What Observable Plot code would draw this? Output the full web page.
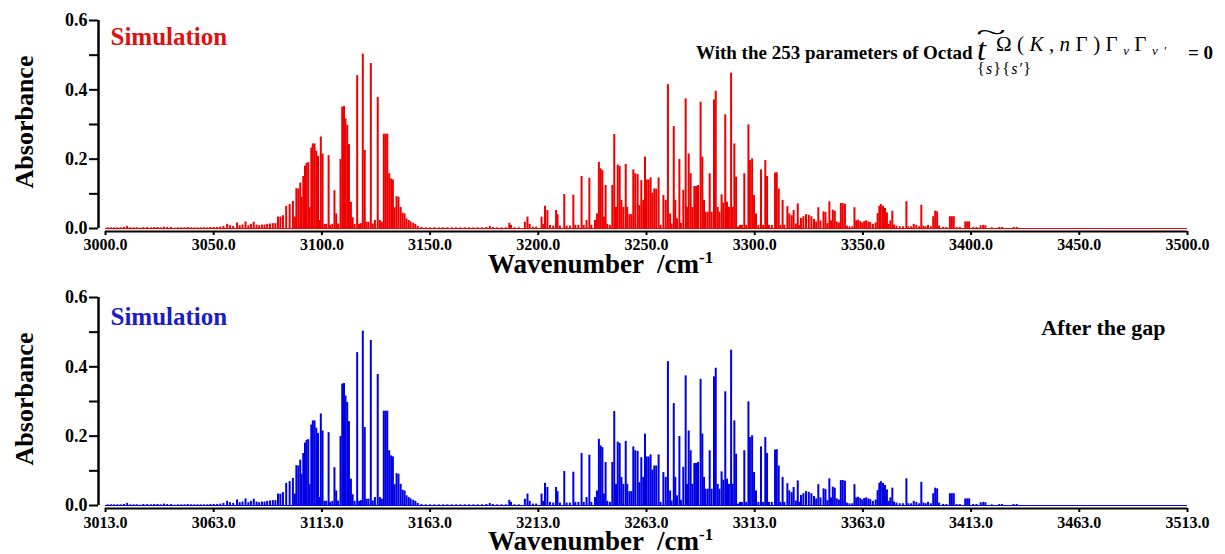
<!DOCTYPE html>
<html>
<head>
<meta charset="utf-8">
<script src="https://cdn.jsdelivr.net/npm/d3@7"></script>
<script src="https://cdn.jsdelivr.net/npm/@observablehq/plot@0.6"></script>
<style>
  body { margin: 0; background: #fff; width: 1225px; height: 554px; overflow: hidden; }
  #charts svg { display: block; }
</style>
</head>
<body>
<div id="charts"></div>
<script>
// Stick spectrum: [wavenumber (cm-1), absorbance]
const spectrumLines = [
  [3001,0.002],[3002.5,0.002],[3004,0.002],[3005.5,0.002],[3007,0.002],[3008.5,0.003],[3010,0.006],[3011.5,0.002],
  [3013,0.002],[3014.5,0.002],[3016,0.001],[3017.5,0.003],[3019.3,0.003],[3021,0.002],[3022.5,0.003],[3024,0.003],
  [3025.5,0.002],[3027,0.004],[3028.5,0.003],[3030.3,0.003],[3032,0.001],[3033.5,0.002],[3035,0.002],[3036.5,0.002],
  [3038,0.003],[3039.5,0.002],[3041,0.002],[3042.5,0.002],[3044,0.002],[3045.5,0.002],[3047,0.002],[3048.5,0.003],
  [3050,0.003],[3051.6,0.003],[3053,0.004],[3054.5,0.006],[3056.2,0.012],[3057.5,0.008],[3059,0.006],[3060.8,0.016],
  [3062,0.008],[3063.3,0.01],[3064.7,0.019],[3066,0.008],[3067.2,0.012],[3068.5,0.018],[3069.8,0.01],[3071,0.008],
  [3072.3,0.01],[3073.5,0.01],[3074.7,0.012],[3076,0.013],[3077.3,0.014],[3078.5,0.014],
  [3079.7,0.033],[3080.8,0.033],[3082,0.037],[3083.5,0.064],[3085.1,0.069],[3086.6,0.078],[3087.5,0.033],[3088.2,0.115],
  [3089.1,0.114],[3090,0.131],[3090.6,0.09],[3091.4,0.15],[3092.2,0.18],[3092.9,0.188],[3093.7,0.19],[3094.3,0.06],
  [3095.1,0.232],[3095.8,0.244],[3096.6,0.244],[3097.4,0.223],[3098.2,0.208],[3098.8,0.023],[3099.5,0.264],[3100.3,0.215],
  [3101.2,0.012],[3102,0.012],[3103.1,0.21],[3103.8,0.009],[3104.8,0.012],[3105.8,0.109],[3106.6,0.042],[3107.5,0.013],
  [3108.6,0.199],[3109.4,0.35],[3110.2,0.352],[3110.9,0.316],[3111.7,0.297],[3112.5,0.242],[3113.4,0.076],[3114.2,0.031],
  [3115.1,0.012],[3116.3,0.441],[3117.2,0.012],[3118,0.014],[3118.9,0.503],[3119.8,0.225],[3120.6,0.018],[3121.5,0.018],
  [3122.6,0.476],[3123.5,0.013],[3124.5,0.023],[3125.8,0.378],[3126.8,0.023],[3127.7,0.018],[3128.6,0.272],[3129.4,0.272],
  [3130.2,0.272],[3131.1,0.158],[3132,0.143],[3132.8,0.14],[3133.6,0.06],[3134.5,0.092],[3135.4,0.09],[3136.4,0.061],
  [3137.3,0.044],[3138.2,0.042],[3139.1,0.028],[3140.1,0.023],[3141,0.019],[3142.2,0.015],[3143.2,0.012],[3144.3,0.006],
  [3146,0.003],[3148,0.002],[3150,0.002],[3152,0.002],[3154,0.002],[3156,0.002],[3158,0.002],[3160,0.002],
  [3162,0.002],[3164,0.002],[3166,0.002],[3168,0.002],[3170,0.002],[3172,0.002],[3174,0.002],[3176,0.003],
  [3177.6,0.006],[3179,0.003],[3181,0.002],[3183,0.002],[3185,0.002],[3186.6,0.015],[3187.4,0.009],[3189,0.002],
  [3191,0.002],[3193.8,0.018],[3195,0.033],[3196,0.012],[3197.5,0.004],[3199,0.004],
  [3201.5,0.033],[3202.3,0.012],[3203.1,0.064],[3204.2,0.052],[3205.4,0.009],[3206.9,0.007],[3208.2,0.052],[3208.9,0.04],
  [3210,0.007],[3212,0.098],[3213.1,0.007],[3214.6,0.007],[3216.2,0.096],[3217.1,0.009],[3218.5,0.009],[3220,0.15],
  [3221,0.009],[3222.3,0.023],[3223.6,0.145],[3224.5,0.009],[3226.2,0.023],[3227.1,0.042],[3228,0.191],[3228.8,0.172],
  [3229.6,0.167],[3230.3,0.033],[3231.1,0.124],[3231.9,0.012],[3233.1,0.009],[3234.2,0.124],[3235.1,0.271],[3235.9,0.061],
  [3236.7,0.183],[3237.6,0.179],[3238.4,0.081],[3239.3,0.061],[3240.4,0.185],[3241.1,0.061],[3242.1,0.04],[3243,0.04],
  [3243.9,0.169],[3244.8,0.158],[3245.9,0.156],[3246.7,0.066],[3247.6,0.138],[3248.5,0.081],[3249.3,0.206],[3250.1,0.14],
  [3251,0.14],[3251.9,0.146],[3252.7,0.102],[3253.6,0.114],[3254.5,0.114],[3255.6,0.146],[3256.5,0.009],[3257.8,0.095],
  [3258.9,0.081],[3259.9,0.415],[3260.9,0.042],[3261.6,0.013],[3262.6,0.294],[3263.3,0.081],[3264.1,0.028],[3265.2,0.199],
  [3265.9,0.015],[3267,0.11],[3268.1,0.374],[3268.7,0.061],[3269.5,0.215],[3270.4,0.158],[3271.2,0.061],[3272.1,0.121],
  [3272.9,0.121],[3273.8,0.124],[3275,0.364],[3275.8,0.206],[3276.6,0.081],[3277.3,0.047],[3278.3,0.047],[3279.2,0.158],
  [3280.1,0.047],[3281.2,0.371],[3282,0.396],[3282.9,0.061],[3283.7,0.047],[3284.7,0.097],[3285.5,0.073],[3286.4,0.328],
  [3287.2,0.076],[3288.1,0.061],[3289.1,0.448],[3289.8,0.061],[3290.6,0.244],[3291.4,0.148],[3292.3,0.004],[3293.2,0.009],
  [3294.1,0.009],[3295.2,0.158],[3296.1,0.009],[3297.1,0.299],[3297.8,0.196],[3298.8,0.201],[3299.7,0.095],[3300.6,0.042],
  [3301.7,0.009],[3302.9,0.169],[3303.9,0.009],[3304.9,0.196],[3305.7,0.15],[3306.6,0.009],[3307.9,0.009],[3309.4,0.16],
  [3310.2,0.161],[3311.1,0.114],[3311.9,0.009],[3312.9,0.081],[3313.7,0.009],[3315.1,0.063],[3316,0.042],[3317.1,0.037],
  [3318,0.052],[3319,0.013],[3319.9,0.071],[3320.6,0.009],
  [3321.4,0.029],[3322.5,0.034],[3323.7,0.04],[3325,0.038],[3326.2,0.034],[3327.4,0.026],[3328.4,0.019],[3329.4,0.06],
  [3330.4,0.022],[3331.8,0.048],[3332.7,0.046],[3333.6,0.014],[3334.5,0.077],[3335.3,0.022],[3336.1,0.053],[3337,0.05],
  [3337.9,0.019],[3338.9,0.016],[3339.8,0.072],[3340.7,0.072],[3341.7,0.07],[3342.6,0.007],[3343.8,0.005],[3345.1,0.005],
  [3346.1,0.06],[3346.9,0.022],[3347.8,0.024],[3348.8,0.02],[3349.7,0.016],[3350.6,0.02],[3351.5,0.022],[3352.5,0.019],
  [3353.4,0.017],[3354.6,0.012],[3355.9,0.016],[3356.8,0.043],[3357.6,0.064],[3358.3,0.069],[3359.3,0.064],[3360.2,0.058],
  [3361.1,0.045],[3361.9,0.012],[3362.7,0.022],[3363.6,0.05],[3364.4,0.01],[3365.5,0.007],[3367,0.005],[3368.5,0.005],
  [3370.1,0.077],[3371,0.005],[3372.3,0.005],[3373.5,0.012],[3374.7,0.009],[3376,0.005],[3377,0.067],[3378,0.007],
  [3379,0.005],[3380.1,0.009],[3381.4,0.005],[3382.5,0.034],[3383.4,0.05],[3384.3,0.048],[3385.2,0.007],[3387.1,0.003],
  [3388.6,0.003],[3390.2,0.034],[3391.1,0.034],[3392,0.034],[3393.3,0.003],[3394.8,0.003],[3397.3,0.019],[3398.2,0.019],
  [3399.1,0.019],[3401,0.003],[3402.5,0.003],[3404.4,0.008],[3405.6,0.009],[3406.6,0.008],[3409.5,0.002],[3413,0.003],
  [3414.3,0.003],[3419.6,0.003],[3421.1,0.003]
];

// Axis ticks of both panels; the lower panel is the same spectrum moved past the gap
const upperTicks = [3000, 3050, 3100, 3150, 3200, 3250, 3300, 3350, 3400, 3450, 3500];
const lowerTicks = [3013, 3063, 3113, 3163, 3213, 3263, 3313, 3363, 3413, 3463, 3513];
const gapShift = 13;
const yTicks = [0, 0.1, 0.2, 0.3, 0.4, 0.5, 0.6];
const yLabelled = [0, 0.2, 0.4, 0.6];

const SERIF = "'Liberation Serif', 'Times New Roman', serif";

function panel({xTicks, shift, bar, ink, labelPad, titleDy, note}) {
  const rows = spectrumLines.map(([w, a]) => ({w: w + shift, a}));
  const x0 = xTicks[0], x1 = xTicks[xTicks.length - 1];
  const marks = [
    Plot.ruleY([0], {x1: x0, x2: x1, stroke: bar, strokeWidth: 1}),
    Plot.ruleX(rows, {x: "w", y1: 0, y2: "a", stroke: bar, strokeWidth: 2}),
    Plot.ruleY([0], {x1: x0, x2: x1, dy: 3, stroke: "#000", strokeWidth: 2}),
    Plot.ruleX([x0], {y1: 0, y2: 0.6, dx: -7, stroke: "#000", strokeWidth: 2.5}),
    Plot.axisX({ticks: xTicks, tickFormat: d => d.toFixed(1), tickSize: 4, tickPadding: labelPad,
                strokeWidth: 2, label: null, fontSize: 16, fontFamily: SERIF}),
    Plot.axisY({ticks: yTicks, tickFormat: d => yLabelled.includes(d) ? d.toFixed(1) : "",
                tickSize: 9, tickPadding: 2, strokeWidth: 2, label: null, fontSize: 18, fontFamily: SERIF}),
    Plot.text(["Simulation"], {frameAnchor: "top-left", dx: 12, dy: titleDy, fill: ink,
                               fontSize: 25, fontWeight: "bold", fontFamily: SERIF})
  ];
  if (note) marks.push(Plot.text([note], {frameAnchor: "top-right", dx: -22, dy: 22, fill: "#000",
                                          fontSize: 22, fontWeight: "bold", fontFamily: SERIF}));
  const svg = Plot.plot({
    width: 1225, height: 277,
    marginLeft: 98, marginRight: 38, marginTop: 20, marginBottom: 46,
    style: {fontFamily: SERIF, fontWeight: "bold", fontSize: "16px", color: "#000",
            background: "#fff", overflow: "visible"},
    x: {domain: [x0, x1], insetLeft: 7},
    y: {domain: [0, 0.6], insetBottom: 3},
    marks
  });
  const s = d3.select(svg);
  s.append("text")
    .attr("transform", "translate(33,122) rotate(-90)")
    .attr("text-anchor", "middle").attr("font-size", 26).attr("fill", "#000")
    .attr("font-family", SERIF)
    .text("Absorbance");
  const wt = s.append("text").attr("x", 488).attr("y", 273).attr("font-size", 27)
    .attr("text-anchor", "start").attr("font-family", SERIF)
    .attr("fill", "#000").style("white-space", "pre");
  wt.append("tspan").text("Wavenumber  /cm");
  wt.append("tspan").attr("dy", -10).attr("font-size", 17).text("-1");
  return svg;
}

// Parameter statement with the octad operator notation
function octadNote(svg) {
  const s = d3.select(svg);
  const t = (x, y, size) => s.append("text").attr("x", x).attr("y", y).attr("font-size", size)
    .attr("text-anchor", "start").attr("font-family", SERIF).attr("fill", "#000");
  t(696, 58.5, 19).text("With the 253 parameters of Octad");
  t(977, 59.5, 32).attr("font-style", "italic").attr("font-weight", "normal").text("t");
  t(976, 38.5, 22).attr("font-weight", "normal")
    .attr("textLength", 30).attr("lengthAdjust", "spacingAndGlyphs").text("~");
  const sup = t(996, 51, 21).attr("font-weight", "normal")
    .attr("textLength", 170).attr("lengthAdjust", "spacing");
  sup.append("tspan").text("Ω(");
  sup.append("tspan").attr("font-style", "italic").text("K");
  sup.append("tspan").text(",");
  sup.append("tspan").attr("font-style", "italic").text("n");
  sup.append("tspan").text("Γ)Γ");
  sup.append("tspan").attr("font-size", 13).attr("dy", 4).attr("font-style", "italic").text("ν");
  sup.append("tspan").attr("dy", -4).text("Γ");
  sup.append("tspan").attr("font-size", 13).attr("dy", 4).attr("font-style", "italic").text("ν′");
  const sub = t(977, 74, 16).attr("font-weight", "normal")
    .attr("textLength", 54).attr("lengthAdjust", "spacing");
  sub.append("tspan").text("{");
  sub.append("tspan").attr("font-style", "italic").text("s");
  sub.append("tspan").text("}{");
  sub.append("tspan").attr("font-style", "italic").text("s′");
  sub.append("tspan").text("}");
  t(1188, 58.5, 19).text("= 0");
}

const upper = panel({xTicks: upperTicks, shift: 0, bar: "#ee0000", ink: "#e01010", labelPad: 3, titleDy: 6.5});
octadNote(upper);
const lower = panel({xTicks: lowerTicks, shift: gapShift, bar: "#0000e6", ink: "#1c1cc8", labelPad: 4, titleDy: 9.5,
                     note: "After the gap"});
document.getElementById("charts").append(upper, lower);
</script>
</body>
</html>
